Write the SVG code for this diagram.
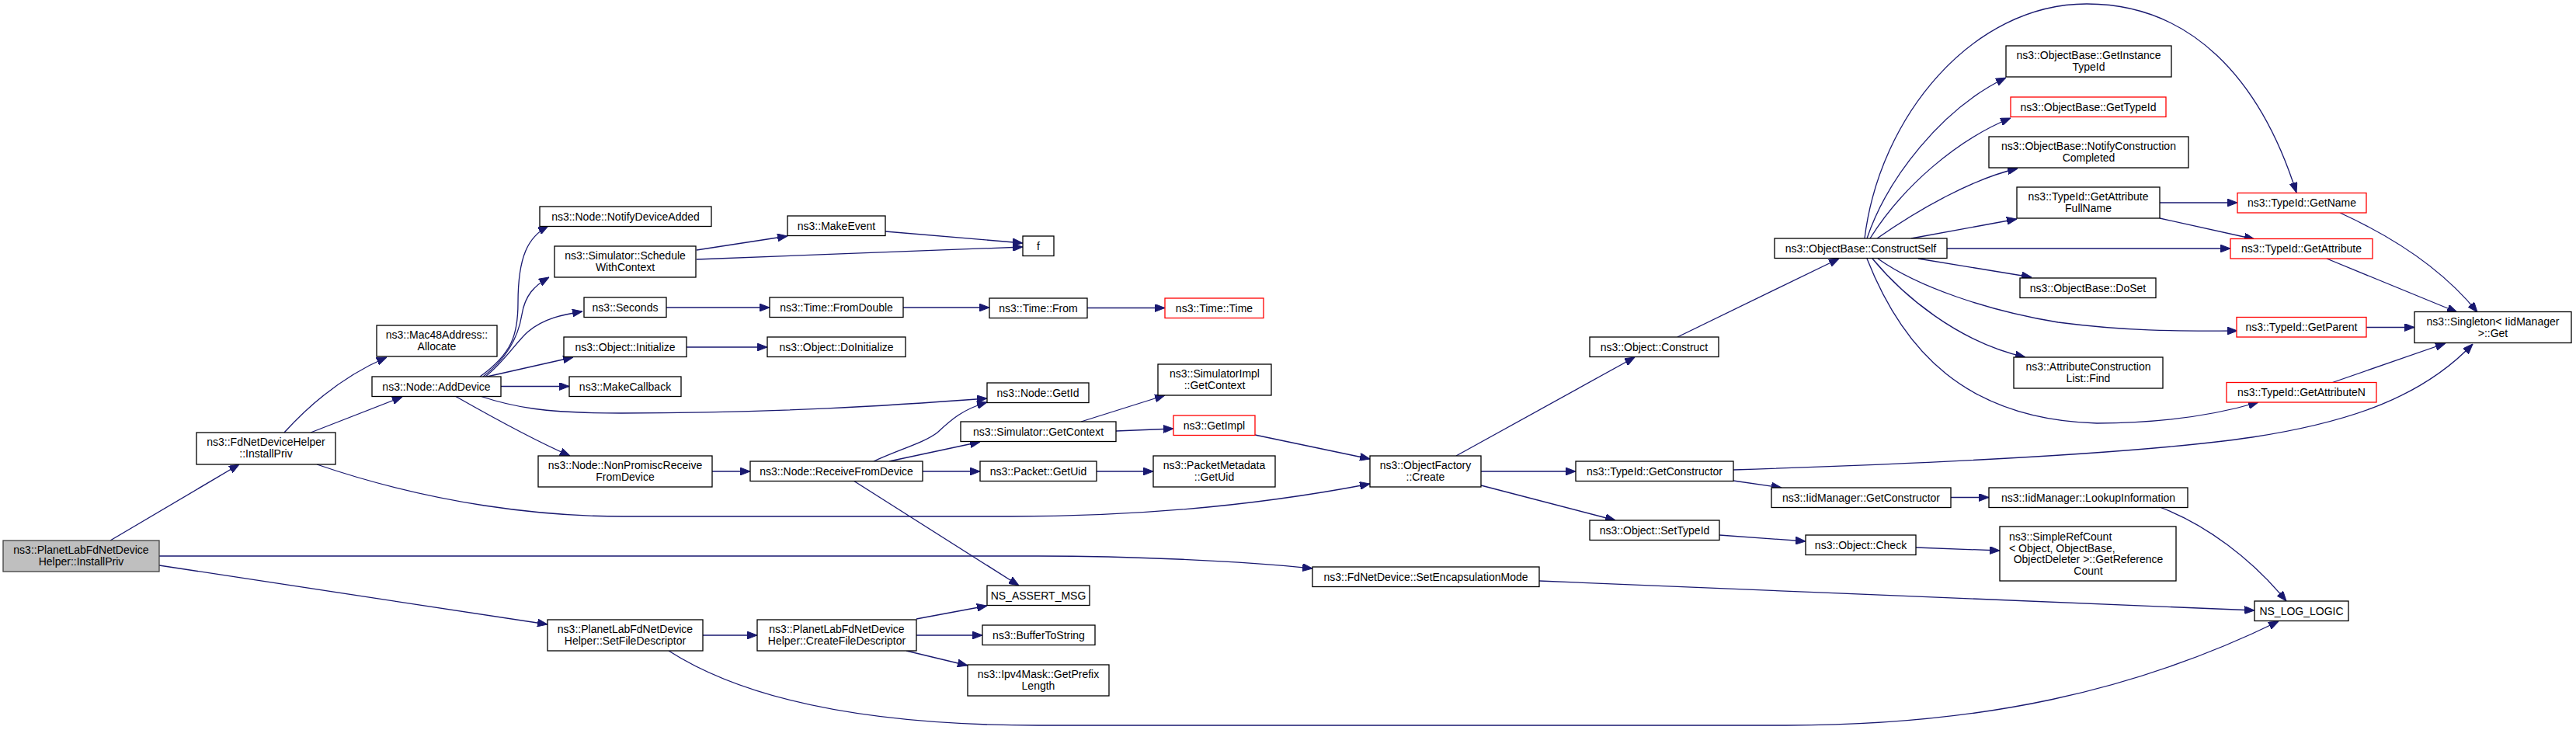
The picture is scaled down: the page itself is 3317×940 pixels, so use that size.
<svg xmlns="http://www.w3.org/2000/svg" width="3317" height="940" viewBox="0 0 3317 940">
<style>
.n rect{fill:#fff;stroke:#000;stroke-width:1.3}
.r rect{fill:#fff;stroke:#ff0000;stroke-width:1.3}
.g rect{fill:#bfbfbf;stroke:#404040;stroke-width:1.3}
text{font-family:"Liberation Sans",Arial,sans-serif;font-size:14px;fill:#000;text-anchor:middle}
.e path{fill:none;stroke:#191970;stroke-width:1.3;marker-end:url(#a)}
</style>
<defs>
<marker id="a" viewBox="0 0 13 10" refX="13" refY="5" markerWidth="13" markerHeight="10" markerUnits="userSpaceOnUse" orient="auto">
<path d="M0,0 L13,5 L0,10 z" fill="#191970" stroke="#191970" stroke-width="1"/>
</marker>
</defs>
<rect width="3317" height="940" fill="#fff"/>
<g class="e" id="edges">
<path d="M142,696 L308,598"/>
<path d="M205,716 L1337,716 C1450,716 1600,722 1690,732"/>
<path d="M205,728 L705,804"/>
<path d="M366,557 C395,525 440,485 498,460"/>
<path d="M400,557 L518,511"/>
<path d="M408,598 C560,650 700,665 803,665 L1301,665 C1500,665 1650,645 1764,623"/>
<path d="M618,485 C660,455 667,430 667,390 C667,330 680,305 706,291"/>
<path d="M622,485 C655,460 668,430 672,405 C676,380 688,368 707,357"/>
<path d="M625,485 C650,465 665,440 680,427 C700,410 725,405 750,401"/>
<path d="M627,485 L738,460"/>
<path d="M645,497.5 L733,497.5"/>
<path d="M618,510 C660,524 700,532 800,532 C1000,532 1150,522 1271,513"/>
<path d="M586,510 C630,535 690,568 734,587"/>
<path d="M897,322 L1014,304"/>
<path d="M897,334 L1317,318"/>
<path d="M1140,298 L1317,313"/>
<path d="M858,396 L991,396"/>
<path d="M1163,396 L1274,396"/>
<path d="M1400,396.5 L1500,396.5"/>
<path d="M884,447 L988,447"/>
<path d="M917,607 L966,607"/>
<path d="M1125,594 C1160,578 1190,570 1207,557 C1225,540 1240,527 1271,518"/>
<path d="M1145,594 L1262,569"/>
<path d="M1188,607 L1262,607"/>
<path d="M1099,619 L1312,754"/>
<path d="M1392,543 L1500,509"/>
<path d="M1437,555 L1511,552"/>
<path d="M1616,560 L1764,591"/>
<path d="M1412,607 L1485,607"/>
<path d="M1875,587 L2105,460"/>
<path d="M1907,607 L2029,607"/>
<path d="M1907,625 L2080,670"/>
<path d="M2160,434 L2368,333"/>
<path d="M2232,605 C2450,598 2750,585 2900,563 C3030,543 3120,510 3184,443"/>
<path d="M2232,619 L2294,628"/>
<path d="M2512,640.5 L2561,640.5"/>
<path d="M2781,653 C2840,675 2900,720 2944,774"/>
<path d="M2214,689 L2325,697"/>
<path d="M2467,705 L2575,709"/>
<path d="M1982,748 L2903,786"/>
<path d="M905,818 L975,818"/>
<path d="M861,838 C950,895 1100,934 1337,934 L2300,934 C2550,934 2750,890 2934,800"/>
<path d="M1180,797 L1271,780"/>
<path d="M1180,818 L1265,818"/>
<path d="M1167,838 L1246,857"/>
<path d="M2401,307 C2420,150 2540,5 2687,5 C2820,5 2910,100 2957,248"/>
<path d="M2404,307 C2430,230 2500,140 2583,100"/>
<path d="M2408,307 C2450,240 2520,180 2589,152"/>
<path d="M2417,307 C2470,270 2540,230 2598,217"/>
<path d="M2461,307 L2597,282"/>
<path d="M2507,320 L2872,320"/>
<path d="M2470,333 L2616,357"/>
<path d="M2418,333 C2470,370 2560,400 2650,415 C2750,428 2820,426 2881,426"/>
<path d="M2411,333 C2450,380 2520,440 2608,460"/>
<path d="M2404,333 C2450,450 2530,540 2700,545 C2780,545 2850,535 2908,518"/>
<path d="M2781,261 L2881,261"/>
<path d="M2781,281 L2903,308"/>
<path d="M3013,274 C3070,300 3140,340 3190,402"/>
<path d="M2996,333 L3164,402"/>
<path d="M3047,421.5 L3109,421.5"/>
<path d="M3002,493 L3149,442"/>
</g>
<g id="n_root" class="g"><rect x="4" y="696" width="201" height="40"/><text x="104.5" y="713">ns3::PlanetLabFdNetDevice</text><text x="104.5" y="728">Helper::InstallPriv</text></g>
<g id="n_fdhelper" class="n"><rect x="253" y="557" width="179" height="41"/><text x="342.5" y="574">ns3::FdNetDeviceHelper</text><text x="342.5" y="589">::InstallPriv</text></g>
<g id="n_mac48" class="n"><rect x="485" y="419" width="155" height="40"/><text x="562.5" y="436">ns3::Mac48Address::</text><text x="562.5" y="451">Allocate</text></g>
<g id="n_adddevice" class="n"><rect x="479" y="485" width="166" height="25.5"/><text x="562" y="502.7">ns3::Node::AddDevice</text></g>
<g id="n_notify" class="n"><rect x="695" y="266" width="221" height="25.5"/><text x="805.5" y="283.7">ns3::Node::NotifyDeviceAdded</text></g>
<g id="n_schedule" class="n"><rect x="714" y="317" width="182" height="40"/><text x="805" y="334">ns3::Simulator::Schedule</text><text x="805" y="349">WithContext</text></g>
<g id="n_makeevent" class="n"><rect x="1014" y="278" width="126" height="25.5"/><text x="1077" y="295.7">ns3::MakeEvent</text></g>
<g id="n_f" class="n"><rect x="1317" y="304" width="40" height="25.5"/><text x="1337" y="321.7">f</text></g>
<g id="n_seconds" class="n"><rect x="752" y="383" width="106" height="25.5"/><text x="805" y="400.7">ns3::Seconds</text></g>
<g id="n_fromdouble" class="n"><rect x="991" y="383" width="172" height="25.5"/><text x="1077" y="400.7">ns3::Time::FromDouble</text></g>
<g id="n_from" class="n"><rect x="1274" y="384" width="126" height="25.5"/><text x="1337" y="401.7">ns3::Time::From</text></g>
<g id="n_time" class="r"><rect x="1500" y="384" width="127" height="25.5"/><text x="1563.5" y="401.7">ns3::Time::Time</text></g>
<g id="n_init" class="n"><rect x="726" y="434" width="158" height="25.5"/><text x="805" y="451.7">ns3::Object::Initialize</text></g>
<g id="n_doinit" class="n"><rect x="988" y="434" width="178" height="25.5"/><text x="1077" y="451.7">ns3::Object::DoInitialize</text></g>
<g id="n_makecb" class="n"><rect x="733" y="485" width="144" height="25.5"/><text x="805" y="502.7">ns3::MakeCallback</text></g>
<g id="n_getid" class="n"><rect x="1271" y="493" width="131" height="25.5"/><text x="1336.5" y="510.7">ns3::Node::GetId</text></g>
<g id="n_nonpromisc" class="n"><rect x="693" y="587" width="224" height="40"/><text x="805" y="604">ns3::Node::NonPromiscReceive</text><text x="805" y="619">FromDevice</text></g>
<g id="n_recv" class="n"><rect x="966" y="594" width="222" height="25.5"/><text x="1077" y="611.7">ns3::Node::ReceiveFromDevice</text></g>
<g id="n_simimpl" class="n"><rect x="1491" y="469" width="146" height="40"/><text x="1564" y="486">ns3::SimulatorImpl</text><text x="1564" y="501">::GetContext</text></g>
<g id="n_simctx" class="n"><rect x="1237" y="543" width="200" height="25.5"/><text x="1337" y="560.7">ns3::Simulator::GetContext</text></g>
<g id="n_getimpl" class="r"><rect x="1511" y="535" width="105" height="25.5"/><text x="1563.5" y="552.7">ns3::GetImpl</text></g>
<g id="n_pktuid" class="n"><rect x="1262" y="594" width="150" height="25.5"/><text x="1337" y="611.7">ns3::Packet::GetUid</text></g>
<g id="n_pmuid" class="n"><rect x="1485" y="587" width="157" height="40"/><text x="1563.5" y="604">ns3::PacketMetadata</text><text x="1563.5" y="619">::GetUid</text></g>
<g id="n_assert" class="n"><rect x="1271" y="754" width="132" height="25.5"/><text x="1337" y="771.7">NS_ASSERT_MSG</text></g>
<g id="n_setfd" class="n"><rect x="705" y="798" width="200" height="40"/><text x="805" y="815">ns3::PlanetLabFdNetDevice</text><text x="805" y="830">Helper::SetFileDescriptor</text></g>
<g id="n_createfd" class="n"><rect x="975" y="798" width="205" height="40"/><text x="1077.5" y="815">ns3::PlanetLabFdNetDevice</text><text x="1077.5" y="830">Helper::CreateFileDescriptor</text></g>
<g id="n_buf" class="n"><rect x="1265" y="805" width="145" height="25.5"/><text x="1337.5" y="822.7">ns3::BufferToString</text></g>
<g id="n_ipv4" class="n"><rect x="1246" y="856" width="182" height="40"/><text x="1337" y="873">ns3::Ipv4Mask::GetPrefix</text><text x="1337" y="888">Length</text></g>
<g id="n_ofcreate" class="n"><rect x="1764" y="587" width="143" height="40"/><text x="1835.5" y="604">ns3::ObjectFactory</text><text x="1835.5" y="619">::Create</text></g>
<g id="n_construct" class="n"><rect x="2047" y="434" width="166" height="25.5"/><text x="2130" y="451.7">ns3::Object::Construct</text></g>
<g id="n_getctor" class="n"><rect x="2029" y="594" width="203" height="25.5"/><text x="2130.5" y="611.7">ns3::TypeId::GetConstructor</text></g>
<g id="n_iidctor" class="n"><rect x="2281" y="628" width="231" height="25.5"/><text x="2396.5" y="645.7">ns3::IidManager::GetConstructor</text></g>
<g id="n_lookup" class="n"><rect x="2561" y="628" width="256" height="25.5"/><text x="2689" y="645.7">ns3::IidManager::LookupInformation</text></g>
<g id="n_settypeid" class="n"><rect x="2047" y="670" width="167" height="25.5"/><text x="2130.5" y="687.7">ns3::Object::SetTypeId</text></g>
<g id="n_check" class="n"><rect x="2325" y="689" width="142" height="25.5"/><text x="2396" y="706.7">ns3::Object::Check</text></g>
<g id="n_refcount" class="n"><rect x="2575" y="678" width="227" height="70"/><text x="2587" y="695.5" style="text-anchor:start">ns3::SimpleRefCount</text><text x="2587" y="710.5" style="text-anchor:start">&lt; Object, ObjectBase,</text><text x="2689" y="725">ObjectDeleter &gt;::GetReference</text><text x="2689" y="739.5">Count</text></g>
<g id="n_setencap" class="n"><rect x="1690" y="730" width="292" height="25.5"/><text x="1836" y="747.7">ns3::FdNetDevice::SetEncapsulationMode</text></g>
<g id="n_log" class="n"><rect x="2903" y="774" width="121" height="25.5"/><text x="2963.5" y="791.7">NS_LOG_LOGIC</text></g>
<g id="n_cself" class="n"><rect x="2285" y="307" width="222" height="25.5"/><text x="2396" y="324.7">ns3::ObjectBase::ConstructSelf</text></g>
<g id="n_getinst" class="n"><rect x="2583" y="59" width="213" height="40"/><text x="2689.5" y="76">ns3::ObjectBase::GetInstance</text><text x="2689.5" y="91">TypeId</text></g>
<g id="n_gettypeid" class="r"><rect x="2589" y="125" width="200" height="25.5"/><text x="2689" y="142.7">ns3::ObjectBase::GetTypeId</text></g>
<g id="n_notifyc" class="n"><rect x="2561" y="176" width="257" height="40"/><text x="2689.5" y="193">ns3::ObjectBase::NotifyConstruction</text><text x="2689.5" y="208">Completed</text></g>
<g id="n_attrfull" class="n"><rect x="2597" y="241" width="184" height="40"/><text x="2689" y="258">ns3::TypeId::GetAttribute</text><text x="2689" y="273">FullName</text></g>
<g id="n_doset" class="n"><rect x="2601" y="358" width="175" height="25.5"/><text x="2688.5" y="375.7">ns3::ObjectBase::DoSet</text></g>
<g id="n_find" class="n"><rect x="2593" y="460" width="192" height="40"/><text x="2689" y="477">ns3::AttributeConstruction</text><text x="2689" y="492">List::Find</text></g>
<g id="n_getname" class="r"><rect x="2881" y="248.5" width="166" height="25.5"/><text x="2964" y="266.2">ns3::TypeId::GetName</text></g>
<g id="n_getattr" class="r"><rect x="2872" y="307.5" width="183" height="25.5"/><text x="2963.5" y="325.2">ns3::TypeId::GetAttribute</text></g>
<g id="n_getparent" class="r"><rect x="2880" y="408.5" width="167" height="25.5"/><text x="2963.5" y="426.2">ns3::TypeId::GetParent</text></g>
<g id="n_getattrn" class="r"><rect x="2867" y="492.5" width="193" height="25.5"/><text x="2963.5" y="510.2">ns3::TypeId::GetAttributeN</text></g>
<g id="n_singleton" class="n"><rect x="3109" y="401.5" width="202" height="40"/><text x="3210" y="418.5">ns3::Singleton&lt; IidManager</text><text x="3210" y="433.5">&gt;::Get</text></g>
</svg>
